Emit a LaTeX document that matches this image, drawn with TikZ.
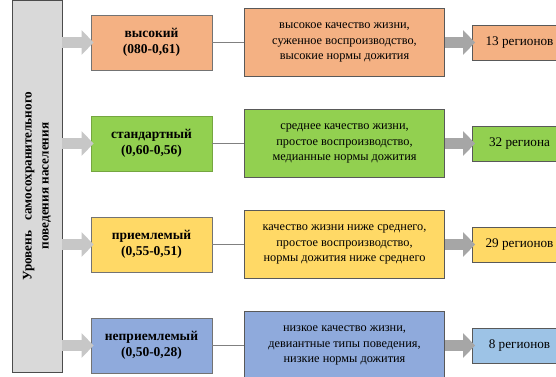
\documentclass[tikz,border=0pt]{standalone}
\usepackage{fontspec}
\setmainfont{Liberation Serif}
\usetikzlibrary{arrows.meta}

\definecolor{highfill}{HTML}{F4B183}
\definecolor{stdfill}{HTML}{92D050}
\definecolor{okfill}{HTML}{FFD966}
\definecolor{badfill}{HTML}{8FAADC}
\definecolor{regfill}{HTML}{9DC3E6}
\definecolor{sidefill}{HTML}{D9D9D9}

\begin{document}
\begin{tikzpicture}[x=1pt, y=1pt, node distance=101pt]
        \tikzstyle{sidebox}=[rectangle, draw=black!70, fill=sidefill, line width=0.8pt, rotate=90, minimum width=372pt, minimum height=50pt, inner sep=0pt, align=center, font=\fontsize{13.2}{17}\selectfont\bfseries]
        \tikzstyle{levelbox}=[rectangle, draw=black!55, line width=0.8pt, minimum width=121pt, minimum height=55pt, inner sep=0pt, align=center, font=\fontsize{13.5}{16}\selectfont\bfseries]
        \tikzstyle{descbox}=[rectangle, draw=black!65, line width=0.8pt, minimum width=200pt, minimum height=68pt, inner sep=0pt, align=center, font=\fontsize{12.3}{15.5}\selectfont]
        \tikzstyle{regbox}=[rectangle, draw=black!65, line width=0.8pt, minimum width=94pt, minimum height=35pt, inner sep=0pt, align=center, font=\fontsize{13.2}{15}\selectfont]
        \tikzstyle{blockarrow}=[line width=11pt, draw=black!22, -{Triangle[width=24pt, length=12pt]}, shorten >=-3pt]
        \tikzstyle{darkarrow}=[line width=11pt, draw=black!35, -{Triangle[width=24pt, length=12pt]}, shorten >=-3pt]
        \tikzstyle{link}=[draw=black!50, line width=1pt]

        \useasboundingbox (0,0) rectangle (556,376);
        \clip (0,0) rectangle (556,376);

        \node[sidebox] (level) at (37,190) {Уровень~~ самосохранительного\\поведения населения};

        \node[levelbox, fill=highfill] (high) at (151.5,333.5) {высокий\\(080-0,61)};
        \node[levelbox, fill=stdfill, draw=stdfill!80!black, below of=high] (standard) {стандартный\\(0,60-0,56)};
        \node[levelbox, fill=okfill, below of=standard] (acceptable) {приемлемый\\(0,55-0,51)};
        \node[levelbox, fill=badfill, below of=acceptable] (unacceptable) {неприемлемый\\(0,50-0,28)};

        \node[descbox, fill=highfill, right of=high, node distance=193pt] (highdesc) {высокое качество жизни,\\суженное воспроизводство,\\высокие нормы дожития};
        \node[descbox, fill=stdfill, right of=standard, node distance=193pt] (standarddesc) {среднее качество жизни,\\простое воспроизводство,\\медианные нормы дожития};
        \node[descbox, fill=okfill, right of=acceptable, node distance=193pt] (acceptabledesc) {качество жизни ниже среднего,\\простое воспроизводство,\\нормы дожития ниже среднего};
        \node[descbox, fill=badfill, right of=unacceptable, node distance=193pt] (unacceptabledesc) {низкое качество жизни,\\девиантные типы поведения,\\низкие нормы дожития};

        \node[regbox, fill=highfill, right of=highdesc, node distance=175pt] (highreg) {13 регионов};
        \node[regbox, fill=stdfill, right of=standarddesc, node distance=175pt] (standardreg) {32 региона};
        \node[regbox, fill=okfill, right of=acceptabledesc, node distance=175pt] (acceptablereg) {29 регионов};
        \node[regbox, fill=regfill, right of=unacceptabledesc, node distance=175pt] (unacceptablereg) {8 регионов};

        \draw[blockarrow] (level.south |- high) -- (high.west);
        \draw[blockarrow] (level.south |- standard) -- (standard.west);
        \draw[blockarrow] (level.south |- acceptable) -- (acceptable.west);
        \draw[blockarrow] (level.south |- unacceptable) -- (unacceptable.west);

        \draw[link] (high) -- (highdesc);
        \draw[link] (standard) -- (standarddesc);
        \draw[link] (acceptable) -- (acceptabledesc);
        \draw[link] (unacceptable) -- (unacceptabledesc);

        \draw[darkarrow] (highdesc) -- (highreg);
        \draw[darkarrow] (standarddesc) -- (standardreg);
        \draw[darkarrow] (acceptabledesc) -- (acceptablereg);
        \draw[darkarrow] (unacceptabledesc) -- (unacceptablereg);
    \end{tikzpicture}
\end{document}
